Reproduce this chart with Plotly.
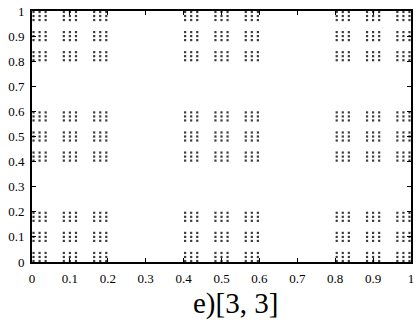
import plotly.graph_objects as go

# Coordinates of the third-level cells of the 3x3 self-similar set (same on both axes)
coords = [0.004, 0.020, 0.036, 0.084, 0.100, 0.116, 0.164, 0.180, 0.196,
          0.404, 0.420, 0.436, 0.484, 0.500, 0.516, 0.564, 0.580, 0.596,
          0.804, 0.820, 0.836, 0.884, 0.900, 0.916, 0.964, 0.980, 0.996]
tick_vals = [0, 0.1, 0.2, 0.3, 0.4, 0.5, 0.6, 0.7, 0.8, 0.9, 1]
tick_text = ["0", "0.1", "0.2", "0.3", "0.4", "0.5", "0.6", "0.7", "0.8", "0.9", "1"]
caption = "e)[3, 3]"

xs = [x for y in coords for x in coords]
ys = [y for y in coords for x in coords]

fig = go.Figure(go.Scatter(
    x=xs, y=ys, mode="markers",
    marker=dict(symbol="square", size=2.2, color="#3c3c3c", line=dict(width=0)),
    hoverinfo="skip", cliponaxis=True,
))

axis_common = dict(
    range=[0, 1], tickvals=tick_vals, ticktext=tick_text,
    showgrid=False, zeroline=False, showline=True, linecolor="black", linewidth=2,
    mirror="ticks", ticks="inside", ticklen=4, tickwidth=1, tickcolor="black",
    tickfont=dict(family="Liberation Serif", size=13, color="black"),
)
fig.update_xaxes(**axis_common, ticklabelstandoff=3)
fig.update_yaxes(**axis_common, ticklabelstandoff=3)

fig.add_annotation(
    text=caption, xref="paper", yref="paper", x=0.537, y=-0.167,
    xanchor="center", yanchor="middle", showarrow=False,
    font=dict(family="Liberation Serif", size=29, color="black"),
)

fig.update_layout(
    width=418, height=320,
    margin=dict(l=32, r=4, t=9, b=58),
    paper_bgcolor="white", plot_bgcolor="white",
    showlegend=False,
)

fig.write_html("out.html")
